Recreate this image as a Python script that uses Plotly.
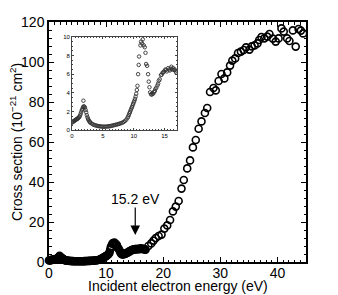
import plotly.graph_objects as go

# Low-energy region (also shown in inset), eV and 10^-21 cm^2
low_energy = [0.0, 0.1, 0.2, 0.3, 0.4, 0.5, 0.6, 0.7, 0.8, 0.9, 1.0, 1.1, 1.2, 1.3, 1.4, 1.5, 1.6, 1.7, 1.8, 1.85, 1.9,
              2.0, 2.1, 2.2, 2.3, 2.4, 2.5, 2.6, 2.7, 2.8, 2.9, 3.0, 3.2, 3.4, 3.6, 3.8, 4.0, 4.2, 4.4, 4.6, 4.8,
              5.0, 5.2, 5.4, 5.6, 5.8, 6.0, 6.2, 6.4, 6.6, 6.8, 7.0, 7.2, 7.4, 7.6, 7.8, 8.0, 8.2, 8.4, 8.6, 8.8,
              9.0, 9.1, 9.2, 9.3, 9.4, 9.5, 9.6, 9.7, 9.8, 9.9, 10.0, 10.1, 10.2, 10.3, 10.4, 10.5, 10.6, 10.7,
              10.8, 10.86, 11.08, 11.19, 11.35, 11.46, 11.62, 11.78, 11.9, 12.0, 12.16, 12.32, 12.43, 12.54,
              12.65, 12.8, 12.9, 13.0, 13.15, 13.3, 13.4, 13.5, 13.65, 13.84, 13.95, 14.05, 14.2, 14.4, 14.5,
              14.65, 14.8, 14.9, 15.1, 15.2, 15.35, 15.57, 15.7, 15.84, 16.0, 16.1, 16.25, 16.4, 16.55, 16.65,
              16.8, 16.9]
low_cross = [0.80, 0.85, 0.90, 0.95, 1.00, 1.05, 1.10, 1.12, 1.18, 1.22, 1.28, 1.35, 1.42, 1.55, 1.75, 1.95, 2.15,
             2.30, 2.45, 3.15, 2.55, 2.50, 2.40, 2.15, 1.90, 1.60, 1.38, 1.20, 1.05, 0.95, 0.85, 0.78, 0.68, 0.60,
             0.54, 0.50, 0.46, 0.43, 0.41, 0.39, 0.37, 0.36, 0.35, 0.36, 0.37, 0.38, 0.40, 0.42, 0.45, 0.48, 0.52,
             0.55, 0.58, 0.62, 0.66, 0.70, 0.75, 0.80, 0.88, 0.98, 1.12, 1.32, 1.45, 1.62, 1.80, 1.95, 2.12, 2.30,
             2.45, 2.62, 2.80, 2.98, 3.15, 3.35, 3.60, 3.90, 4.30, 4.75, 6.0, 7.0, 7.9, 9.1, 9.5, 9.3, 9.75, 9.1,
             8.9, 8.3, 7.1, 6.9, 6.0, 5.2, 4.6, 4.05, 3.85, 3.8, 3.95, 3.9, 4.1, 4.2, 4.4, 4.55, 4.8, 5.0, 5.3,
             5.45, 5.9, 5.95, 6.15, 6.2, 6.3, 6.5, 6.45, 6.3, 6.65, 6.5, 6.4, 6.6, 6.8, 6.5, 6.65, 6.45, 6.5,
             6.3, 6.15]

# Higher-energy region
high_energy = [17.4, 17.9, 18.3, 18.7, 19.2, 19.7, 20.2, 20.7, 21.2, 21.7, 22.2, 22.7, 23.2, 23.6, 24.2, 24.7,
               25.2, 25.7, 26.2, 26.7, 27.3, 27.7, 28.2, 28.8, 29.2, 29.7, 30.2, 30.7, 31.2, 31.7, 32.1, 32.6,
               33.1, 33.6, 34.1, 34.5, 35.1, 35.5, 36.0, 36.5, 36.8, 37.2, 37.7, 38.2, 38.6, 39.2, 39.7, 40.2,
               40.7, 41.1, 41.7, 42.1, 42.7, 43.2, 43.7, 44.1, 44.5]
high_cross = [8.0, 9.3, 10.7, 12.0, 13.0, 13.7, 16.7, 18.3, 21.0, 25.3, 27.7, 30.5, 36.7, 41.0, 46.8, 50.8,
              57.3, 61.0, 66.6, 70.3, 74.5, 77.0, 85.0, 87.0, 85.8, 90.5, 94.0, 91.8, 94.8, 98.2, 100.7, 101.8,
              104.5, 105.2, 106.0, 107.3, 106.2, 107.8, 108.3, 109.3, 111.0, 112.5, 111.8, 112.7, 114.0, 111.7,
              110.2, 111.8, 116.8, 115.2, 111.8, 110.5, 115.8, 107.7, 116.5, 115.7, 114.3]

x_ticks = [0, 10, 20, 30, 40]
y_ticks = [0, 20, 40, 60, 80, 100, 120]
x_range = [0, 45]
y_range = [0, 120]
inset_x_ticks = [0, 5, 10, 15]
inset_y_ticks = [0, 2, 4, 6, 8, 10]
arrow_energy = 15.1
arrow_label = "15.2 eV"
x_title = "Incident electron energy (eV)"
y_title = "Cross section (10<sup>−21</sup> cm<sup>2</sup>)"

FONT = "Liberation Sans, Arial, sans-serif"
FS = 14

fig = go.Figure()
fig.add_trace(go.Scatter(
    x=low_energy + high_energy, y=low_cross + high_cross, mode="markers",
    marker=dict(symbol="circle-open", size=7, color="black", line=dict(width=1.6, color="black")),
    xaxis="x", yaxis="y", showlegend=False, cliponaxis=False))
fig.add_trace(go.Scatter(
    x=low_energy, y=low_cross, mode="markers",
    marker=dict(symbol="circle-open", size=3.5, color="#333", line=dict(width=0.9, color="#333")),
    xaxis="x2", yaxis="y2", showlegend=False))
# empty trace so the overlay tick axes (x3/y3) get drawn
fig.add_trace(go.Scatter(x=[], y=[], mode="markers", xaxis="x3", yaxis="y3", showlegend=False,
                         hoverinfo="skip"))

# labelled axes: zero-length outside ticks keep the labels tight to the frame
label_axis = dict(showline=True, linecolor="black", linewidth=1.5, mirror=True, ticks="outside", ticklen=0,
                  showgrid=False, zeroline=False, automargin=False, tickfont=dict(size=FS))
# overlay axes carry the inside (mirrored) major and minor ticks
tick_axis = dict(showline=False, ticks="inside", ticklen=5, tickwidth=1.3, tickcolor="black", mirror="allticks",
                 showticklabels=False, showgrid=False, zeroline=False, automargin=False)

# page body has an 8px margin, so the figure sits 8px right/down in the window
fig.update_layout(
    width=338, height=295,
    margin=dict(l=41, r=40, t=14, b=41),
    paper_bgcolor="white", plot_bgcolor="white",
    font=dict(family=FONT, color="black", size=FS),
    xaxis=dict(range=x_range, tickvals=x_ticks, ticklabelstandoff=-3, **label_axis),
    yaxis=dict(range=y_range, tickvals=y_ticks, **label_axis),
    xaxis3=dict(range=x_range, tickvals=x_ticks, overlaying="x", anchor="y3", side="bottom",
                minor=dict(dtick=1, ticklen=2.5, tickcolor="black", ticks="inside"), **tick_axis),
    yaxis3=dict(range=y_range, tickvals=y_ticks, overlaying="y", anchor="x3", side="left",
                minor=dict(dtick=4, ticklen=2.5, tickcolor="black", ticks="inside"), **tick_axis),
    xaxis2=dict(domain=[0.0895, 0.498], anchor="y2", range=[0, 17], tickvals=inset_x_ticks, ticklen=2.5,
                minor=dict(dtick=0.5, ticklen=1.2, tickcolor="#444", ticks="inside"),
                tickfont=dict(size=6), automargin=False,
                showline=True, linecolor="#444", linewidth=0.8, mirror="allticks", ticks="inside",
                tickcolor="#444", showgrid=False, zeroline=False),
    yaxis2=dict(domain=[0.55, 0.9375], anchor="x2", range=[0, 10], tickvals=inset_y_ticks, ticklen=2.5,
                minor=dict(dtick=0.5, ticklen=1.2, tickcolor="#444", ticks="inside"),
                tickfont=dict(size=6), automargin=False,
                showline=True, linecolor="#444", linewidth=0.8, mirror="allticks", ticks="inside",
                tickcolor="#444", showgrid=False, zeroline=False),
)

# axis titles as paper annotations for exact placement
fig.add_annotation(x=0.5, y=0, xref="paper", yref="paper", text=x_title, showarrow=False,
                   yshift=-24, yanchor="middle", font=dict(size=FS, family=FONT, color="black"))
fig.add_annotation(x=0, y=0.5, xref="paper", yref="paper", text=y_title, showarrow=False,
                   xshift=-33, xanchor="center", textangle=-90, font=dict(size=FS, family=FONT, color="black"))

fig.add_annotation(x=arrow_energy, y=13.5, ax=arrow_energy, ay=28, xref="x", yref="y", axref="x", ayref="y",
                   text="", showarrow=True, arrowhead=2, arrowsize=1.6, arrowwidth=1.2, arrowcolor="black")
fig.add_annotation(x=arrow_energy, y=28.5, xref="x", yref="y", text=arrow_label, showarrow=False,
                   yanchor="bottom", yshift=-4, font=dict(size=FS, family=FONT, color="black"))

fig.write_html("out.html")
